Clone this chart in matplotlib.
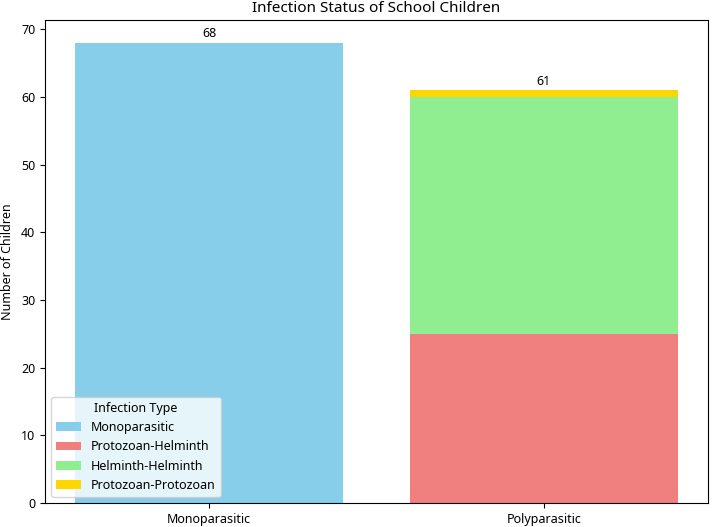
import matplotlib
matplotlib.use("Agg")
import matplotlib.pyplot as plt

plt.rcParams['font.family'] = ['Noto Sans', 'DejaVu Sans']

categories = ["Monoparasitic", "Polyparasitic"]
mono = [68, 0]
proto_helm = [0, 25]
helm_helm = [0, 35]
proto_proto = [0, 1]
totals = [68, 61]

fig, ax = plt.subplots(figsize=(7.12, 5.27), dpi=100)
fig.subplots_adjust(left=0.0632, right=0.9944, top=0.962, bottom=0.0455)

ax.bar(categories[0], mono[0], color="skyblue", label="Monoparasitic")
ax.bar(categories[1], proto_helm[1], color="lightcoral", label="Protozoan-Helminth")
ax.bar(categories[1], helm_helm[1], bottom=proto_helm[1], color="lightgreen", label="Helminth-Helminth")
ax.bar(categories[1], proto_proto[1], bottom=proto_helm[1] + helm_helm[1], color="gold", label="Protozoan-Protozoan")

for i, t in enumerate(totals):
    ax.text(i, t + 0.4, str(t), ha="center", va="bottom", fontsize=9)

ax.set_title("Infection Status of School Children", fontsize=11)
ax.set_ylabel("Number of Children", fontsize=9, labelpad=5)
ax.tick_params(labelsize=9)
ax.legend(title="Infection Type", loc="lower left", fontsize=9, title_fontsize=9)

fig.savefig("out.png", dpi=100)
